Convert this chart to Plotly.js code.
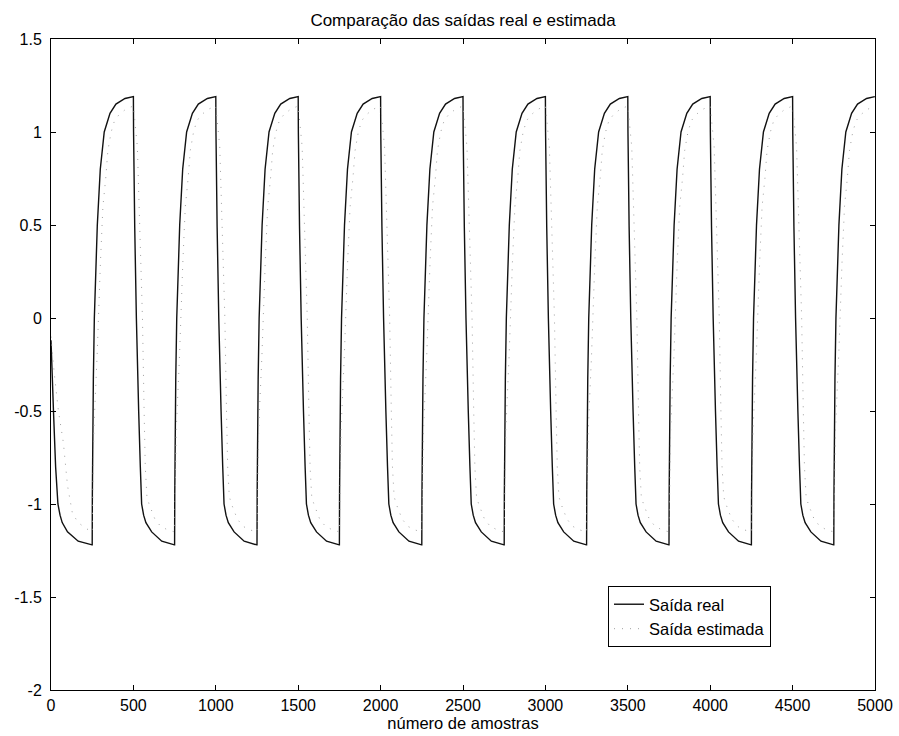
<!DOCTYPE html>
<html>
<head>
<meta charset="utf-8">
<script src="https://cdn.plot.ly/plotly-3.0.1.min.js"></script>
<style>html,body{margin:0;padding:0;background:#fff;}</style>
</head>
<body>
<div id="chart" style="width:899px;height:736px;"></div>
<script>
// ---- values ----
const xTickVals = [0, 500, 1000, 1500, 2000, 2500, 3000, 3500, 4000, 4500, 5000];
const xTickText = ['0', '500', '1000', '1500', '2000', '2500', '3000', '3500', '4000', '4500', '5000'];
const yTickVals = [-2, -1.5, -1, -0.5, 0, 0.5, 1, 1.5];
const yTickText = ['-2', '-1.5', '-1', '-0.5', '0', '0.5', '1', '1.5'];

// instants where the input switches (rising / falling half periods)
const riseStarts = [250, 750, 1250, 1750, 2250, 2750, 3250, 3750, 4250, 4750];
const fallStarts = [500, 1000, 1500, 2000, 2500, 3000, 3500, 4000, 4500];

// "Saída real": samples read along each half period (offset from switching instant)
const realInitOffsets = [0, 4, 8, 15, 28, 42, 55, 68, 100, 165, 249];
const realInitValues  = [-0.12, -0.2, -0.33, -0.5, -0.8, -1.0, -1.06, -1.1, -1.15, -1.2, -1.22];
const realRiseOffsets = [0, 1, 4, 7, 13, 22, 31, 49, 73, 108, 144, 199, 249];
const realRiseValues  = [-1.22, -0.95, -0.55, -0.33, 0.0, 0.3, 0.5, 0.8, 1.0, 1.1, 1.15, 1.18, 1.19];
const realFallOffsets = [0, 1, 4, 8, 18, 26, 32, 42, 50, 62, 76, 111, 172, 249];
const realFallValues  = [1.19, 1.0, 0.75, 0.49, 0.0, -0.33, -0.5, -0.8, -1.0, -1.06, -1.1, -1.15, -1.2, -1.22];

// "Saída estimada"
const estInitOffsets = [0, 20, 45, 75, 100, 130, 165, 210, 249];
const estInitValues  = [-0.1, -0.3, -0.5, -0.67, -0.9, -1.05, -1.1, -1.13, -1.15];
const estRiseOffsets = [0, 10, 30, 50, 65, 82, 95, 115, 135, 160, 200, 249];
const estRiseValues  = [-1.15, -0.6, -0.2, 0.3, 0.6, 0.75, 0.9, 1.0, 1.06, 1.09, 1.12, 1.14];
const estFallOffsets = [0, 24, 40, 55, 65, 72, 82, 95, 130, 165, 210, 249];
const estFallValues  = [1.14, 0.92, 0.5, 0.0, -0.5, -0.8, -0.96, -1.0, -1.08, -1.12, -1.14, -1.15];

// ---- assemble the series from the read segments ----
function assemble(initO, initV, riseO, riseV, fallO, fallV) {
  const xs = [], ys = [];
  const push = (start, offs, vals) => {
    for (let k = 0; k < offs.length; k++) { xs.push(start + offs[k]); ys.push(vals[k]); }
  };
  push(0, initO, initV);
  for (let i = 0; i < riseStarts.length; i++) {
    push(riseStarts[i], riseO, riseV);
    if (i < fallStarts.length) push(fallStarts[i], fallO, fallV);
  }
  return {xs, ys};
}
const real = assemble(realInitOffsets, realInitValues, realRiseOffsets, realRiseValues, realFallOffsets, realFallValues);
const est  = assemble(estInitOffsets, estInitValues, estRiseOffsets, estRiseValues, estFallOffsets, estFallValues);

const FONT = 'Liberation Sans, Arial, Helvetica, sans-serif';
const FS = 17;

const traces = [
  {x: real.xs, y: real.ys, type: 'scatter', mode: 'lines', name: 'Saída real',
   line: {color: '#111', width: 1.4}},
  {x: est.xs, y: est.ys, type: 'scatter', mode: 'lines', name: 'Saída estimada',
   line: {color: '#a0a0a0', width: 1, dash: '1px,7px'}}
];

const axisCommon = {
  showline: true, linecolor: '#000', linewidth: 1, mirror: 'ticks',
  ticks: 'inside', ticklen: 5, tickcolor: '#000', tickwidth: 1,
  showgrid: false, zeroline: false,
  tickfont: {family: FONT, size: 16, color: '#000'}
};

const layout = {
  width: 899, height: 736,
  paper_bgcolor: '#fff', plot_bgcolor: '#fff',
  margin: {l: 51, r: 24, t: 39, b: 46},
  font: {family: FONT, size: FS, color: '#000'},
  title: {text: 'Comparação das saídas real e estimada', font: {family: FONT, size: FS, color: '#000'},
          x: 0.5, xref: 'paper', xanchor: 'center', y: 1 - 20/736, yref: 'container', yanchor: 'middle'},
  xaxis: Object.assign({}, axisCommon, {
    range: [0, 5000], tickmode: 'array', tickvals: xTickVals, ticktext: xTickText,
    ticklabelstandoff: 1, automargin: false,
    title: {text: 'número de amostras', font: {family: FONT, size: 16.5, color: '#000'}, standoff: 2}
  }),
  yaxis: Object.assign({}, axisCommon, {
    range: [-2, 1.5], tickmode: 'array', tickvals: yTickVals, ticktext: yTickText,
    ticklabelstandoff: 5
  }),
  showlegend: true,
  legend: {x: (608 - 51) / 824, y: (690 - 586) / 651, xanchor: 'left', yanchor: 'top',
           bgcolor: '#fff', bordercolor: '#000', borderwidth: 1,
           font: {family: FONT, size: 16.5, color: '#000'}, tracegroupgap: 0}
};

Plotly.newPlot('chart', traces, layout, {displayModeBar: false, staticPlot: true});
</script>
</body>
</html>
